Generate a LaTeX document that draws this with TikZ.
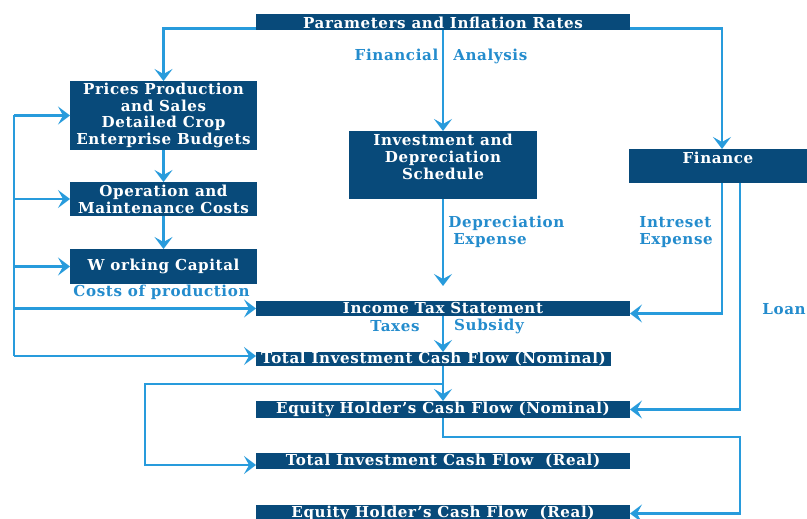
\documentclass[tikz,border=0pt]{standalone}
\usepackage{fontspec}
\setmainfont{DejaVu Serif}[LetterSpace=4]
\usetikzlibrary{arrows.meta}

\definecolor{boxblue}{RGB}{8,74,122}
\definecolor{flowblue}{RGB}{40,155,220}
\definecolor{noteblue}{RGB}{36,140,205}

\begin{document}
\begin{tikzpicture}[
    x=0.02cm, y=-0.02cm,
    box/.style={fill=boxblue, text=white, inner sep=0pt, outer sep=0pt, align=center, font=\bfseries\fontsize{8.6}{9.6}\selectfont, minimum width=3.74cm},
    widebox/.style={box, minimum width=7.48cm, minimum height=0.32cm},
    flow/.style={-{Stealth[length=0.24cm, width=0.36cm, inset=0.1cm]}, flowblue, line width=1.4pt},
    feed/.style={flowblue, line width=1.4pt},
    note/.style={text=noteblue, inner sep=0pt, align=left, font=\bfseries\fontsize{8.6}{9.6}\selectfont},
]
\useasboundingbox (0,0) rectangle (807,519);

% === Top box ===
\node[widebox] (params) at (443,22.5) {Parameters and Inflation Rates};
\node[note] (fin) at (441,56) {Financial\hspace{0.3cm}Analysis};

% === Left column ===
\node[box, minimum height=1.38cm] (prices) at (163.5,115.5) {Prices Production\\and Sales\\Detailed Crop\\Enterprise Budgets};
\node[box, minimum height=0.68cm] (oper) at (163.5,199) {Operation and\\Maintenance Costs};
\node[box, minimum height=0.70cm] (wcap) at (163.5,266.5) {W orking Capital};
\node[note] (costs) at (161.5,292) {Costs of production};

% === Middle and right ===
\node[box, minimum width=3.76cm, minimum height=1.36cm] (invest) at (443,165) {Investment and\\Depreciation\\Schedule\\~};
\node[note, anchor=west] (depr) at (448,232) {Depreciation\\\hspace{0.1cm}Expense};
\node[box, minimum width=3.56cm, minimum height=0.68cm] (finance) at (718,166) {Finance\\~};
\node[note, anchor=west] (intr) at (639,232) {Intreset\\Expense};
\node[note] (loan) at (784,309) {Loan};

% === Statements ===
\node[widebox, minimum height=0.30cm] (income) at (443,308.5) {Income Tax Statement};
\node[note] (taxes) at (395,326) {Taxes};
\node[note] (subs) at (489,326) {Subsidy};
\node[widebox, minimum width=7.10cm, minimum height=0.28cm] (tinom) at (433.5,359) {Total Investment Cash Flow (Nominal)};
\node[widebox, minimum height=0.34cm] (eqnom) at (443,409.5) {Equity Holder's Cash Flow (Nominal)};
\node[widebox] (tireal) at (443,461) {Total Investment Cash Flow\ \ (Real)};
\node[widebox, minimum height=0.34cm] (eqreal) at (443,513.5) {Equity Holder's Cash Flow\ \ (Real)};

% Turning points
\coordinate (bus) at (14,0);
\coordinate (split) at (442,384);
\coordinate (loopx) at (145,465);
\coordinate (rightx) at (740,437);

% === Connectors ===
\draw[flow] ([yshift=0.04cm]params.south west) -| (prices);
\draw[flow] (params) -- (invest);
\draw[flow] ([yshift=0.04cm]params.south east) -| ([xshift=0.08cm]finance.north);
\draw[flow] (prices) -- (oper);
\draw[flow] (oper) -- (wcap);

% feedback bus on the left
\draw[feed] (bus |- prices) -- ([yshift=0.06cm]bus |- tinom);
\foreach \n in {prices, oper, wcap, income}
    \draw[flow] (bus |- \n) -- (\n);
\draw[flow] ([yshift=0.06cm]bus |- tinom) -- ([yshift=0.06cm]tinom.west);

\draw[flow, shorten >=0.3cm] (invest) -- (income);
\draw[flow] ([xshift=0.08cm]finance.south) |- ([yshift=-0.1cm]income.east);
\draw[flow] ([xshift=0.44cm]finance.south) |- (eqnom.east);
\draw[flow] (income.south) -- (income.south |- tinom.north);
\draw[flow] (income.south |- tinom.south) -- (eqnom.north);
\draw[flow] (split) -| (loopx) -- (loopx -| tireal.west);
\draw[flow] (eqnom.south) |- (rightx) |- (eqreal.east);

\end{tikzpicture}
\end{document}
